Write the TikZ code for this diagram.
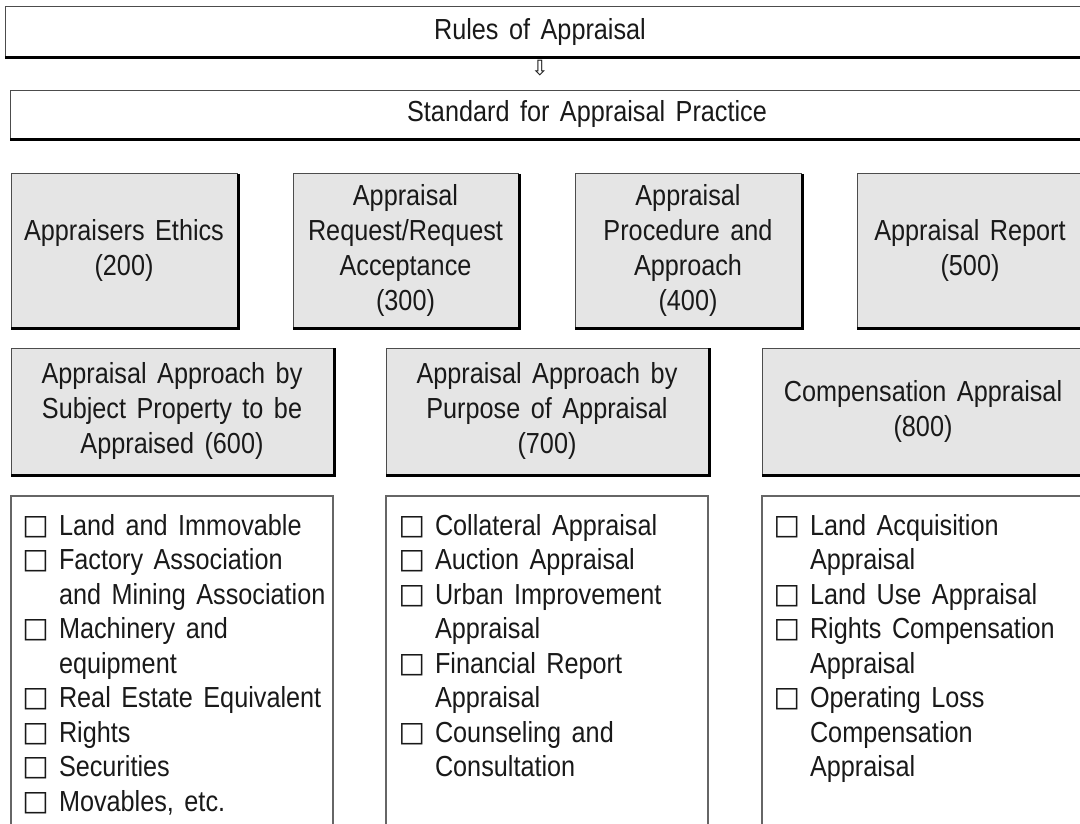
\documentclass[tikz,border=0pt]{standalone}
\usepackage{fontspec}
\setmainfont{Liberation Sans}[FakeStretch=0.87, WordSpace=1.5]
\newfontfamily\symfont{DejaVu Sans}
\usetikzlibrary{calc}

% list bullet (hollow square) and hanging indent for wrapped lines
\newcommand\listmark{\makebox[34pt][l]{\hspace*{-2.5pt}\raisebox{1pt}{\symfont\fontsize{28}{28}\selectfont □}}}
\newcommand\listindent{\hspace*{34pt}}

\begin{document}
\begin{tikzpicture}[x=1pt,y=-1pt,
  every node/.style={inner sep=0pt, outer sep=0pt},
  txt/.style={font=\fontsize{29}{35}\selectfont, text=black!90, align=center},
  listtxt/.style={font=\fontsize{29}{34.5}\selectfont, text=black!90, align=left, anchor=north west},
  headbox/.style={draw=black!70, line width=1pt, fill=white, anchor=north west},
  graybox/.style={draw=black!70, line width=1pt, fill=black!10, txt},
  listbox/.style={draw=black!60, line width=1.2pt, anchor=north west},
  shadowline/.style={line width=3pt, draw=black}
]
\clip (0,0) rectangle (1080,824);

% title bars
\node[headbox, minimum width=1090, minimum height=50] (rules) at (5,7) {};
\draw[shadowline] ($(rules.south west)+(0,1)$) -- ($(rules.south east)+(0,1)$);
\node[txt] (rulesT) at (540,32) {Rules of Appraisal};

\node[font={\symfont\fontsize{21}{21}\selectfont}, text=black!90] (arr) at (540,68) {⇩};

\node[headbox, minimum width=1090, minimum height=48] (std) at (10,91) {};
\draw[shadowline] ($(std.south west)+(0,1)$) -- ($(std.south east)+(0,1)$);
\node[txt] (stdT) at (587,114) {Standard for Appraisal Practice};

% first row of chapters
\node[graybox, minimum width=226, minimum height=153] (c200) at (124,250.5)
  {Appraisers Ethics\\(200)};
\node[graybox, minimum width=225, minimum height=153] (c300) at (405.5,250.5)
  {Appraisal\\Request/Request\\Acceptance\\(300)};
\node[graybox, minimum width=226, minimum height=153] (c400) at (688,250.5)
  {Appraisal\\Procedure and\\Approach\\(400)};
\node[graybox, minimum width=226, minimum height=153] (c500) at (970,250.5)
  {Appraisal Report\\(500)};

% second row of chapters
\node[graybox, minimum width=322, minimum height=126] (c600) at (172,411)
  {Appraisal Approach by\\Subject Property to be\\Appraised (600)};
\node[graybox, minimum width=322, minimum height=126] (c700) at (547,411)
  {Appraisal Approach by\\Purpose of Appraisal\\(700)};
\node[graybox, minimum width=322, minimum height=126] (c800) at (923,411)
  {Compensation Appraisal\\(800)};

% right and bottom shadow edges of the grey boxes
\foreach \b in {c200,c300,c400,c500,c600,c700,c800}
  \draw[shadowline] ($(\b.north east)+(1,0)$) -- ($(\b.south east)+(1,1)$) -- ($(\b.south west)+(0,1)$);

% item lists
\node[listbox, minimum width=322, minimum height=340] (l600) at (11,496) {};
\node[listbox, minimum width=322, minimum height=340] (l700) at (386,496) {};
\node[listbox, minimum width=322, minimum height=340] (l800) at (762,496) {};

\node[listtxt] (t600) at ($(l600.north west)+(14,18)$) {%
  \listmark Land and Immovable\\
  \listmark Factory Association\\
  \listindent and Mining Association\\
  \listmark Machinery and\\
  \listindent equipment\\
  \listmark Real Estate Equivalent\\
  \listmark Rights\\
  \listmark Securities\\
  \listmark Movables, etc.};

\node[listtxt] (t700) at ($(l700.north west)+(15,18)$) {%
  \listmark Collateral Appraisal\\
  \listmark Auction Appraisal\\
  \listmark Urban Improvement\\
  \listindent Appraisal\\
  \listmark Financial Report\\
  \listindent Appraisal\\
  \listmark Counseling and\\
  \listindent Consultation};

\node[listtxt] (t800) at ($(l800.north west)+(14,18)$) {%
  \listmark Land Acquisition\\
  \listindent Appraisal\\
  \listmark Land Use Appraisal\\
  \listmark Rights Compensation\\
  \listindent Appraisal\\
  \listmark Operating Loss\\
  \listindent Compensation\\
  \listindent Appraisal};
\end{tikzpicture}
\end{document}
